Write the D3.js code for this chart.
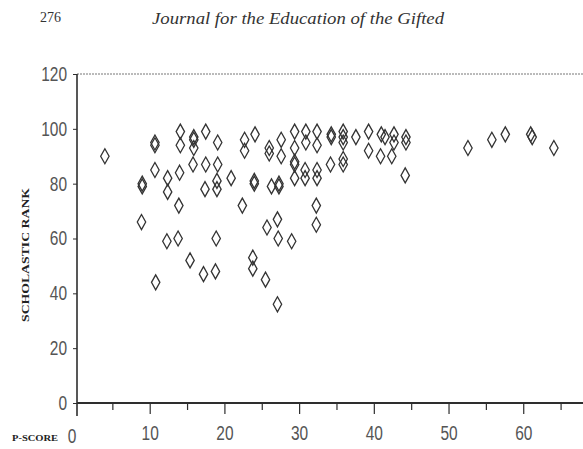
<!DOCTYPE html>
<html>
<head>
<meta charset="utf-8">
<script src="https://cdn.jsdelivr.net/npm/d3@7"></script>
<style>
  html, body { margin: 0; padding: 0; background: #fff; }
  svg { display: block; }
</style>
</head>
<body>
<svg id="chart" width="583" height="449"></svg>
<script>
// P-score (x) against scholastic rank (y), one diamond per student
const pScore = [
  4, 9, 9, 8.9, 10.7, 10.7, 10.7, 10.8,
  12.4, 12.4, 12.3, 14.1, 14.1, 14, 13.9, 13.8,
  15.9, 15.9, 15.9, 15.8, 15.4,
  17.5, 17.5, 17.4, 17.2,
  19.1, 19.1, 19, 19, 18.9, 18.8,
  20.9,
  22.7, 22.7, 22.4,
  24.1, 24, 24, 23.8, 23.8,
  26, 26, 26.3, 25.7, 25.5,
  27.6, 27.6, 27.3, 27.3, 27.1, 27.2, 27.1,
  29.4, 29.4, 29.4, 29.4, 29.4, 29,
  30.9, 30.9, 30.8, 30.8,
  32.4, 32.4, 32.4, 32.4, 32.3, 32.3,
  34.3, 34.3, 34.2,
  35.9, 35.9, 35.9, 35.9, 35.9,
  37.6,
  39.3, 39.3,
  41, 41.5, 40.9,
  42.7, 42.7, 42.4,
  44.3, 44.3, 44.2,
  52.6, 55.8, 57.6, 61, 61.2, 64.1
];
const scholasticRank = [
  90, 79, 80, 66, 94, 95, 85, 44,
  82, 77, 59, 99, 94, 84, 72, 60,
  97, 96, 93, 87, 52,
  99, 87, 78, 47,
  95, 87, 81, 78, 60, 48,
  82,
  96, 92, 72,
  98, 80, 81, 53, 49,
  93, 91, 79, 64, 45,
  96, 90, 79, 80, 67, 60, 36,
  99, 93, 88, 87, 82, 59,
  99, 95, 85, 82,
  99, 94, 85, 82, 72, 65,
  98, 97, 87,
  99, 97, 95, 89, 87,
  97,
  99, 92,
  98, 97, 90,
  98, 95, 90,
  97, 95, 83,
  93, 96, 98, 98, 97, 93
];
const xTicks = [0, 10, 20, 30, 40, 50, 60];
const xMinorTicks = [5, 15, 25, 35, 45, 55, 65];
const yTicks = [0, 20, 40, 60, 80, 100, 120];

const pageNumber = "276";
const runningHead = "Journal for the Education of the Gifted";
const xTitle = "P-SCORE";
const yTitle = "SCHOLASTIC RANK";

const svg = d3.select("#chart");
const ink = "#2e2e2e";
const numFont = "'Liberation Sans', 'DejaVu Sans', sans-serif";
const serif = "'Liberation Serif', 'DejaVu Serif', serif";
const digitWidth = 8.6;

// Tall, condensed plotter-style numerals
function styleNumbers(sel) {
  sel.attr("font-family", numFont)
    .attr("font-size", 20)
    .attr("fill", "#555")
    .attr("lengthAdjust", "spacingAndGlyphs")
    .attr("textLength", function () { return this.textContent.length * digitWidth; });
}

const x = d3.scaleLinear().domain([0, 68]).range([75, 583]);
const y = d3.scaleLinear().domain([0, 120]).range([403, 74]);
const axisX = 77;

// Running head
svg.append("text")
  .attr("x", 40).attr("y", 22)
  .attr("font-family", serif).attr("font-size", 14)
  .attr("fill", "#333")
  .text(pageNumber);
svg.append("text")
  .attr("x", 152).attr("y", 24)
  .attr("font-family", serif).attr("font-size", 16)
  .attr("font-style", "italic").attr("fill", "#333")
  .attr("textLength", 292).attr("lengthAdjust", "spacingAndGlyphs")
  .text(runningHead);

// Frame: light top rule, heavy left and bottom axes
svg.append("line")
  .attr("x1", axisX).attr("x2", 583)
  .attr("y1", y(120)).attr("y2", y(120))
  .attr("stroke", "#777").attr("stroke-width", 1)
  .attr("stroke-dasharray", "2,1");

svg.append("line")
  .attr("x1", axisX).attr("x2", axisX)
  .attr("y1", y(120)).attr("y2", y(0) + 13)
  .attr("stroke", ink).attr("stroke-width", 1.6);

svg.append("line")
  .attr("x1", axisX).attr("x2", 583)
  .attr("y1", y(0)).attr("y2", y(0))
  .attr("stroke", ink).attr("stroke-width", 2);

// Y axis ticks and labels
const yAxis = d3.axisLeft(y).tickValues(yTicks).tickSize(4).tickPadding(6);
const gy = svg.append("g").attr("transform", `translate(${axisX},0)`).call(yAxis);
gy.select(".domain").remove();
gy.selectAll(".tick line").attr("stroke", ink).attr("stroke-width", 1);
gy.selectAll(".tick text").call(styleNumbers);

// X axis: long ticks at tens, short at fives
const gx = svg.append("g").attr("transform", `translate(0,${y(0)})`);
gx.call(d3.axisBottom(x).tickValues(xTicks.filter(d => d > 0)).tickSize(11).tickPadding(12));
gx.select(".domain").remove();
gx.selectAll(".tick line").attr("stroke", ink).attr("stroke-width", 1.2);
gx.selectAll(".tick text").call(styleNumbers);

const gxm = svg.append("g").attr("transform", `translate(0,${y(0)})`);
gxm.call(d3.axisBottom(x).tickValues(xMinorTicks).tickSize(7).tickFormat(""));
gxm.select(".domain").remove();
gxm.selectAll(".tick line").attr("stroke", ink).attr("stroke-width", 1.2);

// Zero of the P-score scale sits just left of the axis corner
svg.append("text")
  .attr("x", x(0) - 3).attr("y", 443)
  .attr("text-anchor", "middle")
  .text(d3.format("d")(xTicks[0]))
  .call(styleNumbers);

// Axis titles
svg.append("text")
  .attr("x", 12).attr("y", 441)
  .attr("font-family", serif).attr("font-size", 9)
  .attr("font-weight", "bold").attr("fill", "#222")
  .attr("textLength", 46).attr("lengthAdjust", "spacingAndGlyphs")
  .text(xTitle);

svg.append("text")
  .attr("transform", `translate(29,${255}) rotate(-90)`)
  .attr("text-anchor", "middle")
  .attr("font-family", serif).attr("font-size", 10.5)
  .attr("font-weight", "bold").attr("fill", "#222")
  .attr("textLength", 134).attr("lengthAdjust", "spacingAndGlyphs")
  .text(yTitle);

// Hollow tall diamonds
const data = pScore.map((p, i) => ({ p, r: scholasticRank[i] }));
const diamond = "M0,-7.5L4.2,0L0,7.5L-4.2,0Z";
svg.append("g")
  .selectAll("path")
  .data(data)
  .join("path")
  .attr("d", diamond)
  .attr("transform", d => `translate(${x(d.p)},${y(d.r)})`)
  .attr("fill", "none")
  .attr("stroke", "#333")
  .attr("stroke-width", 1.3);
</script>
</body>
</html>
